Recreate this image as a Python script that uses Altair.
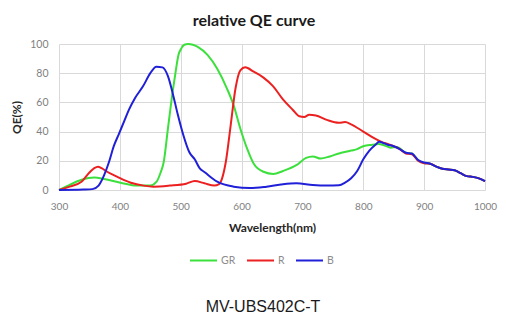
import altair as alt
import pandas as pd

series_names = ["GR", "R", "B"]
series_colors = ["#3ce03c", "#ec2020", "#2020d8"]

wl_gr = [300, 315, 337, 358, 374, 401, 428, 450, 460, 467, 472, 479, 487, 492, 496, 501, 506, 512, 520, 528, 544, 560, 576, 587, 598, 609, 620, 636, 652, 668, 690, 706, 717, 730, 745, 760, 780, 790, 800, 815, 825, 835, 845, 855, 860, 870, 880, 890, 900, 910, 920, 930, 940, 950, 960, 970, 980, 990, 1000]
qe_gr = [0, 3, 7, 8.5, 7.5, 5, 3, 3, 5.5, 12, 19, 42, 68, 82, 92, 97, 99.5, 100, 99.5, 98, 92.5, 83, 69.5, 58, 42, 28.5, 18, 12.5, 11, 13, 17, 22, 23, 21.5, 23, 25, 27, 28, 30, 31, 31.5, 30.5, 29, 29.5, 28.5, 25.5, 25, 20.5, 18.5, 18, 16, 14.5, 14, 13.5, 11.5, 9.5, 9, 8, 6]

wl_r = [300, 315, 337, 350, 358, 364, 370, 377, 396, 418, 439, 455, 482, 509, 523, 539, 555, 563, 568, 574, 582, 590, 598, 606, 620, 636, 652, 668, 684, 695, 703, 711, 722, 740, 760, 770, 780, 800, 820, 830, 840, 850, 860, 870, 880, 890, 900, 910, 920, 930, 940, 950, 960, 970, 980, 990, 1000]
qe_r = [0, 2, 5.7, 12, 15, 16, 15, 13, 9, 5, 3, 2.3, 3, 4.3, 6.2, 4.6, 3, 4, 8, 19, 44, 69.5, 82, 84, 81, 77, 71, 62, 55, 50.5, 50, 51.5, 51, 48, 46, 46.5, 45, 40, 35, 33, 31.5, 30, 28, 25, 24.5, 20, 18.3, 18, 16, 14.5, 14, 13.5, 11.5, 9.5, 9, 8, 6]

wl_b = [300, 340, 355, 365, 374, 382, 390, 398, 407, 415, 425, 438, 450, 460, 470, 479, 487, 495, 504, 514, 523, 531, 540, 560, 587, 614, 641, 668, 690, 717, 740, 760, 770, 780, 790, 800, 810, 820, 826, 840, 850, 860, 870, 880, 890, 900, 910, 920, 930, 940, 950, 960, 970, 980, 990, 1000]
qe_b = [0, 0.3, 0.6, 3, 10, 19, 30, 38, 47, 55, 63, 71, 80, 84.5, 84, 78, 66, 52, 38, 26, 21, 15, 12, 5.7, 2.3, 1.3, 2.3, 4, 4.6, 3.4, 3, 3.2, 5, 8, 13, 21, 27, 31, 33, 31, 30, 28, 25.5, 25, 20.5, 18.8, 18, 16, 14.5, 14, 13.5, 11.5, 9.5, 9, 8, 6]

x_ticks = [300, 400, 500, 600, 700, 800, 900, 1000]
y_ticks = [0, 20, 40, 60, 80, 100]

rows = []
for name, wls, vals in [("GR", wl_gr, qe_gr), ("R", wl_r, qe_r), ("B", wl_b, qe_b)]:
    for w, v in zip(wls, vals):
        rows.append({"series": name, "order": series_names.index(name), "wl": w, "qe": v})
df = pd.DataFrame(rows)

font = "Lato"

lines = alt.Chart(df).mark_line(strokeWidth=2, interpolate="monotone").encode(
    x=alt.X("wl:Q", scale=alt.Scale(domain=[300, 1000], nice=False),
            axis=alt.Axis(values=x_ticks, format="d", title="Wavelength(nm)", grid=True, ticks=False,
                          domain=False, labelPadding=11, titlePadding=11, labelFlush=False,
                          labelFontSize=10, labelColor="#7f7f7f", labelFont=font,
                          titleFont=font, titleFontSize=12, titleFontWeight="bold",
                          titleColor="#262626", gridColor="#d9d9d9")),
    y=alt.Y("qe:Q", scale=alt.Scale(domain=[0, 100], nice=False),
            axis=alt.Axis(values=y_ticks, format="d", title="QE(%)", grid=True, ticks=False,
                          domain=False, labelPadding=11, titlePadding=6, labelFlush=False,
                          labelFontSize=10.5, labelColor="#7f7f7f", labelFont=font,
                          titleFont=font, titleFontSize=12, titleFontWeight="bold",
                          titleColor="#262626", gridColor="#d9d9d9")),
    color=alt.Color("series:N", scale=alt.Scale(domain=series_names, range=series_colors),
                    legend=alt.Legend(title=None, orient="none", direction="horizontal",
                                      legendX=130, legendY=202, symbolType="stroke",
                                      symbolSize=729, symbolStrokeWidth=2,
                                      labelFontSize=10.5, labelColor="#8c8c8c",
                                      labelFont=font, labelOffset=3, columnPadding=7)),
    detail="series:N",
    order="order:Q",
)

caption = alt.Chart(pd.DataFrame({"t": ["MV-UBS402C-T"]})).mark_text(
    font="Liberation Sans", fontSize=16, color="#1a1a1a", align="center", baseline="alphabetic"
).encode(text="t:N", x=alt.value(204), y=alt.value(268))

chart = alt.layer(lines, caption).properties(
    width=426, height=146,
    padding={"left": 51, "top": 36, "right": 13, "bottom": 124},
    autosize=alt.AutoSizeParams(type="none"),
    title=alt.TitleParams("relative QE curve", font=font, fontSize=16, fontWeight="bold",
                          color="#1a1a1a", anchor="middle", dx=-18, offset=10),
).configure_view(stroke=None)

chart.save("out.html", embed_options={"renderer": "svg", "actions": False})
